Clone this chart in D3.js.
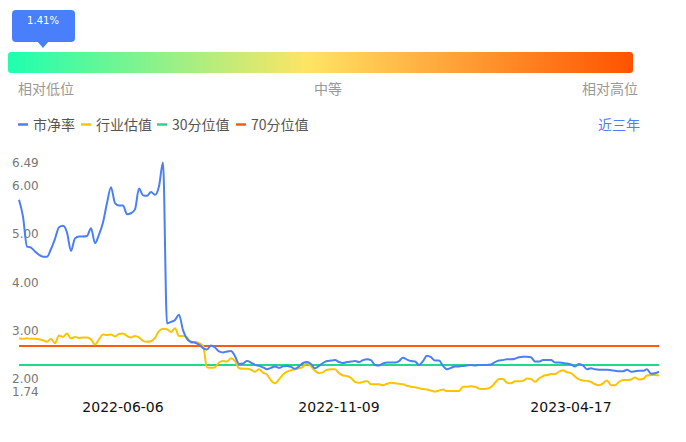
<!DOCTYPE html>
<html>
<head>
<meta charset="utf-8">
<script src="https://cdn.jsdelivr.net/npm/d3@7"></script>
<style>
  html, body { margin: 0; padding: 0; background: #fff; }
  svg { display: block; }
</style>
</head>
<body>
<div id="graph"></div>
<script>
// percentile of current value
const currentPct = "1.41%"
const scaleLabels = ["相对低位", "中等", "相对高位"]

// legend
const seriesNames = ["市净率", "行业估值", "30分位值", "70分位值"]
const seriesColors = ["#4a7ff6", "#fcc400", "#22d98a", "#ff5a0f"]

// y axis tick labels
const yTicks = [6.49, 6.00, 5.00, 4.00, 3.00, 2.00, 1.74]

// x axis tick labels (index into series)
const xTickIndex = [26, 80, 138]
const xTickLabels = ["2022-06-06", "2022-11-09", "2023-04-17"]

// 市净率
const pb = [
  5.72, 5.37, 4.75, 4.73, 4.65, 4.58, 4.54, 4.54, 4.70, 4.91,
  5.15, 5.18, 5.04, 4.66, 4.92, 4.96, 4.96, 4.97, 5.13, 4.82,
  5.00, 5.25, 5.65, 5.98, 5.65, 5.60, 5.60, 5.42, 5.44, 5.52,
  5.95, 5.81, 5.80, 5.88, 5.82, 6.00, 6.49, 3.16, 3.19, 3.23,
  3.34, 3.02, 2.84, 2.78, 2.76, 2.72, 2.65, 2.62, 2.70, 2.66,
  2.58, 2.56, 2.58, 2.59, 2.48, 2.32, 2.33, 2.38, 2.35, 2.30,
  2.28, 2.25, 2.21, 2.24, 2.27, 2.24, 2.27, 2.28, 2.26, 2.22,
  2.27, 2.34, 2.36, 2.32, 2.23, 2.28, 2.34, 2.38, 2.39, 2.40,
  2.36, 2.34, 2.36, 2.37, 2.38, 2.36, 2.40, 2.42, 2.40, 2.30,
  2.29, 2.33, 2.35, 2.35, 2.35, 2.38, 2.45, 2.41, 2.38, 2.37,
  2.30, 2.38, 2.49, 2.46, 2.39, 2.39, 2.28, 2.21, 2.24, 2.27,
  2.27, 2.28, 2.29, 2.30, 2.29, 2.30, 2.30, 2.30, 2.31, 2.36,
  2.39, 2.40, 2.42, 2.42, 2.43, 2.46, 2.47, 2.47, 2.46, 2.37,
  2.37, 2.40, 2.40, 2.40, 2.35, 2.35, 2.34, 2.33, 2.31, 2.27,
  2.32, 2.29, 2.21, 2.23, 2.21, 2.20, 2.20, 2.20, 2.19, 2.18,
  2.17, 2.17, 2.20, 2.16, 2.17, 2.18, 2.18, 2.21, 2.12, 2.13,
  2.16
]

// 行业估值
const industry = [
  2.85, 2.84, 2.85, 2.84, 2.84, 2.83, 2.81, 2.78, 2.84, 2.75,
  2.91, 2.88, 2.95, 2.85, 2.88, 2.86, 2.87, 2.87, 2.83, 2.72,
  2.83, 2.93, 2.92, 2.93, 2.89, 2.94, 2.95, 2.90, 2.87, 2.90,
  2.87, 2.80, 2.78, 2.79, 2.86, 3.00, 3.05, 3.04, 2.98, 3.06,
  2.90, 2.90, 2.87, 2.76, 2.78, 2.75, 2.70, 2.25, 2.24, 2.25,
  2.35, 2.38, 2.37, 2.44, 2.38, 2.23, 2.22, 2.22, 2.20, 2.16,
  2.21, 2.14, 2.10, 1.98, 1.92, 2.00, 2.10, 2.16, 2.19, 2.21,
  2.23, 2.26, 2.34, 2.27, 2.18, 2.13, 2.15, 2.20, 2.21, 2.21,
  2.13, 2.08, 2.07, 2.03, 1.95, 1.93, 1.95, 1.97, 1.90, 1.90,
  1.90, 1.88, 1.91, 1.93, 1.92, 1.91, 1.90, 1.87, 1.85, 1.84,
  1.82, 1.80, 1.79, 1.77, 1.75, 1.77, 1.79, 1.76, 1.76, 1.76,
  1.76, 1.85, 1.85, 1.86, 1.85, 1.81, 1.80, 1.81, 1.84, 1.93,
  2.01, 2.01, 1.93, 1.92, 1.96, 1.96, 1.97, 2.02, 2.01, 1.95,
  2.02, 2.07, 2.09, 2.11, 2.11, 2.16, 2.19, 2.15, 2.13, 2.06,
  2.00, 1.98, 1.97, 1.95, 1.90, 1.88, 1.92, 1.98, 1.88, 1.88,
  1.95, 1.99, 1.99, 2.00, 2.04, 2.00, 2.01, 2.08, 2.09, 2.09,
  2.08
]

// 分位值
const pct30 = 2.30
const pct70 = 2.69

const width = 686
const height = 442

const svg = d3.select("#graph")
  .append("svg")
    .attr("width", width)
    .attr("height", height)

const cjk = "'Noto Sans CJK SC', 'Noto Sans', sans-serif"
const latin = "'DejaVu Sans', 'Noto Sans CJK SC', sans-serif"

// ---------- 顶部渐变条 ----------
const defs = svg.append("defs")
const grad = defs.append("linearGradient")
  .attr("id", "barGrad")
  .attr("x1", "0%").attr("x2", "100%")
grad.append("stop").attr("offset", "0%").attr("stop-color", "#1dffb0")
grad.append("stop").attr("offset", "48%").attr("stop-color", "#ffe464")
grad.append("stop").attr("offset", "100%").attr("stop-color", "#ff5200")

const bar = { x: 8, y: 52, w: 625, h: 21 }
svg.append("rect")
  .attr("x", bar.x).attr("y", bar.y)
  .attr("width", bar.w).attr("height", bar.h)
  .attr("rx", 3)
  .attr("fill", "url(#barGrad)")

// tooltip
const tipX = 43
const tip = svg.append("g")
tip.append("rect")
  .attr("x", tipX - 31).attr("y", 10)
  .attr("width", 63).attr("height", 32)
  .attr("rx", 4)
  .attr("fill", "#4a7ffc")
tip.append("path")
  .attr("d", `M${tipX - 6},41 L${tipX + 6},41 L${tipX},48 Z`)
  .attr("fill", "#4a7ffc")
tip.append("text")
  .attr("x", tipX).attr("y", 20)
  .attr("text-anchor", "middle")
  .attr("dominant-baseline", "central")
  .attr("fill", "#fff")
  .style("font-family", latin)
  .style("font-size", "10px")
  .text(currentPct)

// labels under bar
const labelX = [18, 328, 638]
const anchors = ["start", "middle", "end"]
svg.append("g").selectAll("text")
  .data(scaleLabels)
  .join("text")
    .attr("x", (_, i) => labelX[i])
    .attr("y", 88)
    .attr("text-anchor", (_, i) => anchors[i])
    .attr("dominant-baseline", "central")
    .attr("fill", "#999")
    .style("font-family", cjk)
    .style("font-size", "14px")
    .text(d => d)

// ---------- 图例 ----------
const legendX = [18, 81, 157, 236]
const legend = svg.append("g")
legend.selectAll("line")
  .data(seriesNames)
  .join("line")
    .attr("x1", (_, i) => legendX[i])
    .attr("x2", (_, i) => legendX[i] + 10)
    .attr("y1", 124.5).attr("y2", 124.5)
    .attr("stroke", (_, i) => seriesColors[i])
    .attr("stroke-width", 2.5)
legend.selectAll("text")
  .data(seriesNames)
  .join("text")
    .attr("x", (_, i) => legendX[i] + 15)
    .attr("y", 124)
    .attr("dominant-baseline", "central")
    .attr("fill", "#555")
    .style("font-family", cjk)
    .style("font-size", "14px")
    .text(d => d)

svg.append("text")
  .attr("x", 640).attr("y", 124)
  .attr("text-anchor", "end")
  .attr("dominant-baseline", "central")
  .attr("fill", "#4a7ffc")
  .style("font-family", cjk)
  .style("font-size", "14px")
  .text("近三年")

// ---------- 折线图 ----------
const xScale = d3.scaleLinear()
  .domain([0, pb.length - 1])
  .range([19, 659])

const yScale = d3.scaleLinear()
  .domain([1.74, 6.49])
  .range([392, 162.5])

// y labels
svg.append("g").selectAll("text")
  .data(yTicks)
  .join("text")
    .attr("x", 12)
    .attr("y", d => yScale(d))
    .attr("dominant-baseline", "central")
    .attr("fill", "#777")
    .style("font-family", latin)
    .style("font-size", "12px")
    .text(d => d.toFixed(2))

// x labels
svg.append("g").selectAll("text")
  .data(xTickLabels)
  .join("text")
    .attr("x", (_, i) => xScale(xTickIndex[i]))
    .attr("y", 407)
    .attr("text-anchor", "middle")
    .attr("dominant-baseline", "central")
    .attr("fill", "#111")
    .style("font-family", latin)
    .style("font-size", "14px")
    .text(d => d)

// 分位线
const refs = [pct70, pct30]
const refColors = [seriesColors[3], seriesColors[2]]
svg.append("g").selectAll("line")
  .data(refs)
  .join("line")
    .attr("x1", xScale(0))
    .attr("x2", xScale(pb.length - 1))
    .attr("y1", d => yScale(d))
    .attr("y2", d => yScale(d))
    .attr("stroke", (_, i) => refColors[i])
    .attr("stroke-width", 2)

const line = d3.line()
  .x((_, i) => xScale(i))
  .y(d => yScale(d))
  .curve(d3.curveMonotoneX)

svg.append("path")
  .datum(industry)
  .attr("d", line)
  .attr("fill", "none")
  .attr("stroke", seriesColors[1])
  .attr("stroke-width", 2)
  .attr("stroke-linejoin", "round")

svg.append("path")
  .datum(pb)
  .attr("d", line)
  .attr("fill", "none")
  .attr("stroke", seriesColors[0])
  .attr("stroke-width", 2)
  .attr("stroke-linejoin", "round")
</script>
</body>
</html>
